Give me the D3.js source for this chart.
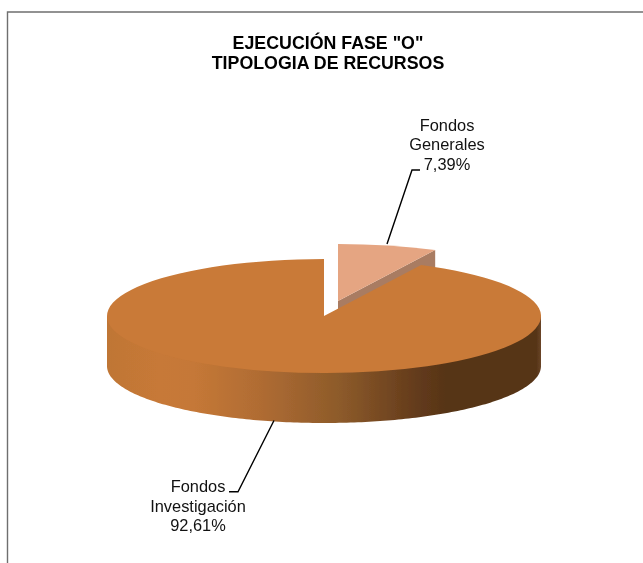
<!DOCTYPE html>
<html><head><meta charset="utf-8">
<script src="https://cdn.jsdelivr.net/npm/d3@7/dist/d3.min.js"></script>
<style>html,body{margin:0;padding:0;background:#fff}svg{display:block}text{font-family:"Liberation Sans",Arial,sans-serif}</style>
</head><body><svg id="c" width="643" height="563"></svg>
<script>
const categories = ["Fondos Generales", "Fondos Investigación"];
const labelLines = [["Fondos", "Generales", "7,39%"], ["Fondos", "Investigación", "92,61%"]];
const values = [7.39, 92.61];
const topColors = ["#E5A582", "#C97A38"];
const titleLines = ['EJECUCIÓN FASE "O"', 'TIPOLOGIA DE RECURSOS'];

const W = 643, H = 563, cx = 324, cy = 316, rx = 217, ry = 57, depth = 50;
const explode = [[14, -15], [0, 0]];
const svg = d3.select("#c");

const defs = svg.append("defs");
const grad = defs.append("linearGradient").attr("id", "side").attr("gradientUnits", "userSpaceOnUse")
  .attr("x1", cx - rx).attr("x2", cx + rx).attr("y1", 0).attr("y2", 0);
[[0, "#BF7635"], [0.04, "#C27736"], [0.12, "#C77937"], [0.2, "#C57837"], [0.35, "#B06C33"], [0.54, "#8C5A2A"], [0.72, "#623A1B"], [0.78, "#573517"], [0.99, "#573517"], [1, "#6A452A"]]
  .forEach(s => grad.append("stop").attr("offset", s[0]).attr("stop-color", s[1]));
defs.append("filter").attr("id", "soft").attr("x", "-5%").attr("y", "-5%").attr("width", "110%").attr("height", "110%")
  .append("feGaussianBlur").attr("stdDeviation", 0.45);

// frame (open on the right and bottom, cropped from the page)
svg.append("path").attr("d", d3.line()([[W, 12], [7.5, 12], [7.5, H]])).attr("fill", "none").attr("stroke", "#6f6f6f").attr("stroke-width", 1.4);

const pie = svg.append("g").attr("filter", "url(#soft)");
const arcs = d3.pie().sort(null).value(d => d)(values);
const pt = (a, ox, oy, dz = 0, k = 1) => [cx + ox + k * rx * Math.sin(a), cy + oy - k * ry * Math.cos(a) + dz];
const line = d3.line();
const arcGen = d3.arc().innerRadius(0).outerRadius(rx);

function topFace(i) {
  const [ox, oy] = explode[i];
  pie.append("path").attr("d", arcGen(arcs[i]))
    .attr("transform", `translate(${cx + ox},${cy + oy}) scale(1,${ry / rx})`)
    .attr("fill", topColors[i]);
}

// exploded slice: visible cut wall, then its top
{
  const [ox, oy] = explode[0];
  const e = arcs[0].endAngle;
  pie.append("path").attr("d", line([[cx + ox, cy + oy], pt(e, ox, oy), pt(e, ox, oy, depth), [cx + ox, cy + oy + depth]]) + "Z").attr("fill", "#A97C62");
  topFace(0);
}

// main slice: outer wall (visible part runs from 90° to 270°), tucked slightly under its top
const steps = d3.range(0, 181).map(k => Math.PI / 2 + k * Math.PI / 180);
const wall = [pt(steps[0], 0, 0)]
  .concat(steps.map(a => pt(a, 0, 0, 0, 0.98)))
  .concat([pt(steps[180], 0, 0)])
  .concat(steps.slice().reverse().map(a => pt(a, 0, 0, depth)));
pie.append("path").attr("d", line(wall) + "Z").attr("fill", "url(#side)");
topFace(1);

// title
svg.append("g").selectAll("text").data(titleLines).join("text")
  .attr("x", 328).attr("y", (d, i) => 49 + i * 19.6).attr("text-anchor", "middle")
  .attr("font-size", 17.8).attr("font-weight", "bold").attr("fill", "#000").text(d => d);

// labels
const labelPos = [[447, [130.5, 150, 170]], [198, [491.5, 511.5, 531]]];
labelLines.forEach((ls, i) => {
  svg.append("g").selectAll("text").data(ls).join("text")
    .attr("x", labelPos[i][0]).attr("y", (d, j) => labelPos[i][1][j]).attr("text-anchor", "middle")
    .attr("font-size", 16.4).attr("fill", "#111").text(d => d);
});

// leader lines
const leaders = [[[387, 244], [412, 170], [420, 170]], [[274, 420.5], [238, 491.7], [229, 491.7]]];
svg.append("g").selectAll("path").data(leaders).join("path")
  .attr("d", d => line(d)).attr("fill", "none").attr("stroke", "#000").attr("stroke-width", 1.4);
</script></body></html>
